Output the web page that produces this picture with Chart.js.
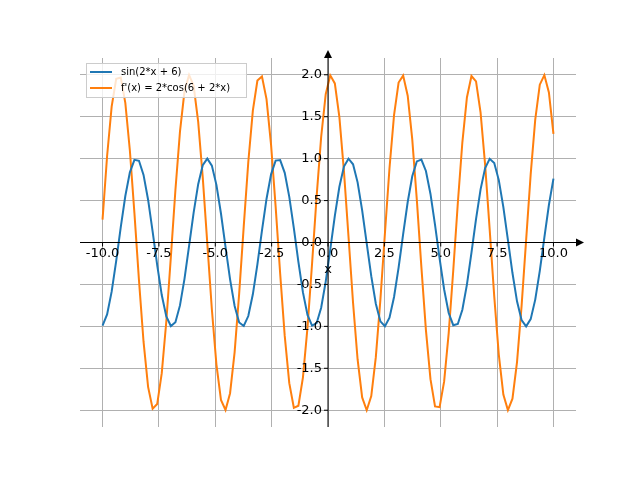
<!DOCTYPE html>
<html><head><meta charset="utf-8">
<script src="https://cdn.jsdelivr.net/npm/chart.js@4/dist/chart.umd.min.js"></script>
<style>body{margin:0;background:#fff}#w{width:640px;height:480px}</style>
</head><body><div id="w"><canvas id="c"></canvas></div>
<script>
const xStart = -10, xEnd = 10;
const sinVals = [-0.991,-0.857,-0.586,-0.220,0.182,0.554,0.836,0.985,0.974,0.806,0.510,0.130,-0.270,-0.627,-0.882,-0.996,-0.950,-0.750,-0.430,-0.040,0.356,0.695,0.922,1.000,0.917,0.687,0.346,-0.051,-0.439,-0.757,-0.953,-0.996,-0.877,-0.618,-0.260,0.141,0.519,0.813,0.977,0.983,0.831,0.545,0.171,-0.230,-0.595,-0.863,-0.992,-0.962,-0.777,-0.466,-0.081,0.317,0.665,0.905,0.999,0.933,0.717,0.384,-0.010,-0.402,-0.730,-0.940,-0.999,-0.897,-0.650,-0.299,0.100,0.483,0.789,0.967,0.989,0.853,0.579,0.211,-0.190,-0.560,-0.841,-0.986,-0.972,-0.802,-0.502,-0.122,0.278,0.633,0.887,0.997,0.947,0.744,0.422,0.032,-0.364,-0.701,-0.925,-1.000,-0.914,-0.681,-0.338,0.059,0.447,0.762];
const derivVals = [0.273,1.031,1.621,1.951,1.967,1.666,1.097,0.350,-0.452,-1.183,-1.721,-1.983,-1.926,-1.558,-0.942,-0.171,0.626,1.323,1.806,1.998,1.869,1.438,0.777,-0.011,-0.796,-1.453,-1.877,-1.997,-1.797,-1.307,-0.606,0.192,0.960,1.572,1.931,1.980,1.710,1.164,0.431,-0.372,-1.114,-1.677,-1.971,-1.946,-1.608,-1.011,-0.253,0.547,1.260,1.769,1.993,1.897,1.494,0.851,0.072,-0.719,-1.395,-1.847,-2.000,-1.831,-1.367,-0.684,0.110,0.886,1.519,1.908,1.990,1.751,1.230,0.511,-0.291,-1.044,-1.630,-1.955,-1.964,-1.657,-1.081,-0.334,0.468,1.195,1.729,1.985,1.921,1.548,0.925,0.154,-0.643,-1.336,-1.813,-1.999,-1.862,-1.426,-0.759,0.028,0.812,1.465,1.882,1.996,1.789,1.294];
const xTicks = [-10,-7.5,-5,-2.5,0,2.5,5,7.5,10];
const yTicks = [-2,-1.5,-1,-0.5,0,0.5,1,1.5,2];
const seriesNames = ['sin(2*x + 6)', "f'(x) = 2*cos(6 + 2*x)"];
const colors = ['#1f77b4', '#ff7f0e'];

const n = sinVals.length;
const xs = sinVals.map((_, i) => xStart + (xEnd - xStart) * i / (n - 1));
const mk = arr => arr.map((v, i) => ({x: xs[i], y: v}));

const axesPlugin = {
  id: 'axesPlugin',
  afterDatasetsDraw(chart) {
    const ctx = chart.ctx, a = chart.chartArea, sx = chart.scales.x, sy = chart.scales.y;
    const x0 = sx.getPixelForValue(0), y0 = sy.getPixelForValue(0);
    ctx.save();
    ctx.strokeStyle = '#000'; ctx.fillStyle = '#000'; ctx.lineWidth = 1;
    ctx.beginPath();
    ctx.moveTo(a.left, y0); ctx.lineTo(a.right, y0);
    ctx.moveTo(x0, a.bottom); ctx.lineTo(x0, a.top);
    ctx.stroke();
    ctx.beginPath(); ctx.moveTo(a.right + 8, y0); ctx.lineTo(a.right, y0 - 4); ctx.lineTo(a.right, y0 + 4); ctx.fill();
    ctx.beginPath(); ctx.moveTo(x0, a.top - 8); ctx.lineTo(x0 - 4, a.top); ctx.lineTo(x0 + 4, a.top); ctx.fill();
    ctx.font = '13px "DejaVu Sans"';
    ctx.textAlign = 'center'; ctx.textBaseline = 'top';
    xTicks.forEach(t => {
      const px = sx.getPixelForValue(t);
      ctx.beginPath(); ctx.moveTo(px, y0); ctx.lineTo(px, y0 + 4); ctx.stroke();
      ctx.fillText(t.toFixed(1), px, y0 + 5);
    });
    ctx.textAlign = 'right'; ctx.textBaseline = 'middle';
    yTicks.forEach(t => {
      const py = sy.getPixelForValue(t);
      ctx.beginPath(); ctx.moveTo(x0, py); ctx.lineTo(x0 - 4, py); ctx.stroke();
      ctx.fillText(t.toFixed(1), x0 - 6, py);
    });
    ctx.textAlign = 'center'; ctx.textBaseline = 'top';
    ctx.fillText('x', x0, y0 + 21);
    // legend
    ctx.fillStyle = 'rgba(255,255,255,0.8)';
    ctx.strokeStyle = '#ccc';
    ctx.fillRect(86, 63, 161, 35); ctx.strokeRect(86.5, 63.5, 160, 34);
    ctx.font = '10px "DejaVu Sans"'; ctx.textAlign = 'left'; ctx.textBaseline = 'middle';
    seriesNames.forEach((s, i) => {
      const yy = 72 + i * 16;
      ctx.strokeStyle = colors[i]; ctx.lineWidth = 2;
      ctx.beginPath(); ctx.moveTo(90, yy); ctx.lineTo(112, yy); ctx.stroke();
      ctx.fillStyle = '#000'; ctx.fillText(s, 121, yy);
    });
    ctx.restore();
  }
};

new Chart(document.getElementById('c'), {
  type: 'line',
  data: { datasets: [
    {data: mk(sinVals), borderColor: colors[0], borderWidth: 2, pointRadius: 0, tension: 0},
    {data: mk(derivVals), borderColor: colors[1], borderWidth: 2, pointRadius: 0, tension: 0}
  ]},
  options: {
    responsive: true, maintainAspectRatio: false, animation: false,
    layout: {padding: {left: 80, right: 64, top: 58, bottom: 53}},
    plugins: {legend: {display: false}, tooltip: {enabled: false}},
    scales: {
      x: {type: 'linear', min: -11, max: 11, afterBuildTicks: s => { s.ticks = xTicks.map(v => ({value: v})); },
          ticks: {display: false}, border: {display: false}, grid: {color: '#b0b0b0', drawTicks: false}},
      y: {type: 'linear', min: -2.2, max: 2.2, afterBuildTicks: s => { s.ticks = yTicks.map(v => ({value: v})); },
          ticks: {display: false}, border: {display: false}, grid: {color: '#b0b0b0', drawTicks: false}}
    }
  },
  plugins: [axesPlugin]
});
</script></body></html>
